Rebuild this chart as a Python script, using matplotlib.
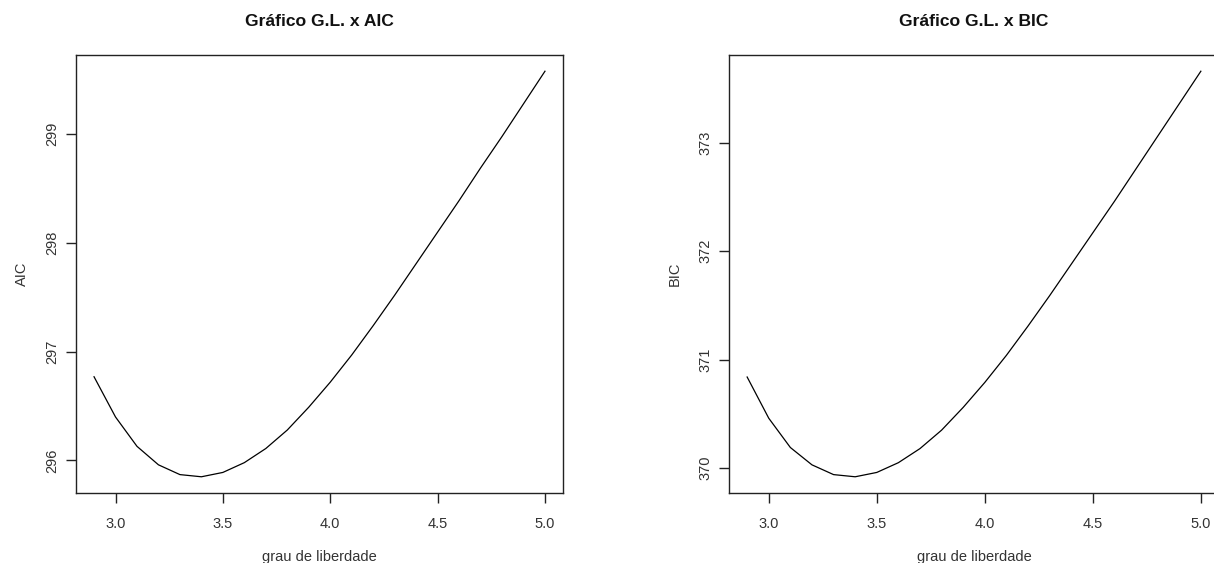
import matplotlib
matplotlib.use("Agg")
import matplotlib.pyplot as plt

# Degrees of freedom and the information criteria evaluated at each one
graus = [2.9, 3.0, 3.1, 3.2, 3.3, 3.4, 3.5, 3.6, 3.7, 3.8, 3.9,
         4.0, 4.1, 4.2, 4.3, 4.4, 4.5, 4.6, 4.7, 4.8, 4.9, 5.0]
aic = [296.77, 296.40, 296.13, 295.96, 295.87, 295.85, 295.89, 295.98,
       296.11, 296.28, 296.49, 296.72, 296.97, 297.24, 297.52, 297.81,
       298.10, 298.39, 298.69, 298.98, 299.28, 299.58]
bic = [370.84, 370.46, 370.19, 370.03, 369.94, 369.92, 369.96, 370.05,
       370.18, 370.35, 370.56, 370.79, 371.04, 371.31, 371.59, 371.88,
       372.17, 372.46, 372.76, 373.06, 373.36, 373.66]

x_ticks = [3.0, 3.5, 4.0, 4.5, 5.0]
aic_ticks = [296, 297, 298, 299]
bic_ticks = [370, 371, 372, 373]

plt.rcParams["font.family"] = ["Liberation Sans", "DejaVu Sans"]

W, H = 1214, 563
fig = plt.figure(figsize=(W / 100, H / 100), dpi=100)
fig.patch.set_facecolor("white")


def px_axes(left, top, right, bottom):
    return fig.add_axes([left / W, 1 - bottom / H, (right - left) / W, (bottom - top) / H])


ink = "#222222"
label_col = "#333333"

panels = [
    (px_axes(76, 55, 563, 493), aic, aic_ticks, "AIC", "Gráfico G.L. x AIC"),
    (px_axes(729, 55, 1219, 493), bic, bic_ticks, "BIC", "Gráfico G.L. x BIC"),
]

for ax, valores, yt, ylab, titulo in panels:
    ax.plot(graus, valores, color="black", lw=0.9)
    ax.margins(x=0.04, y=0.04)
    ax.set_xticks(x_ticks)
    ax.set_xticklabels([f"{v:.1f}" for v in x_ticks])
    ax.set_yticks(yt)
    ax.set_yticklabels([str(v) for v in yt], rotation=90, va="center")
    for s in ax.spines.values():
        s.set_color(ink)
        s.set_linewidth(1.0)
    ax.tick_params(axis="both", length=7, width=1.0, color=ink,
                   labelsize=10.5, labelcolor=label_col)
    ax.tick_params(axis="x", pad=10)
    ax.tick_params(axis="y", pad=5)
    ax.set_xlabel("grau de liberdade", fontsize=10.5, color=label_col, labelpad=14)
    ax.set_ylabel(ylab, fontsize=10.5, color=label_col, labelpad=12)
    ax.set_title(titulo, fontsize=12.6, fontweight="bold", color="#111111", pad=21)

fig.savefig("out.png", dpi=100, facecolor="white")
